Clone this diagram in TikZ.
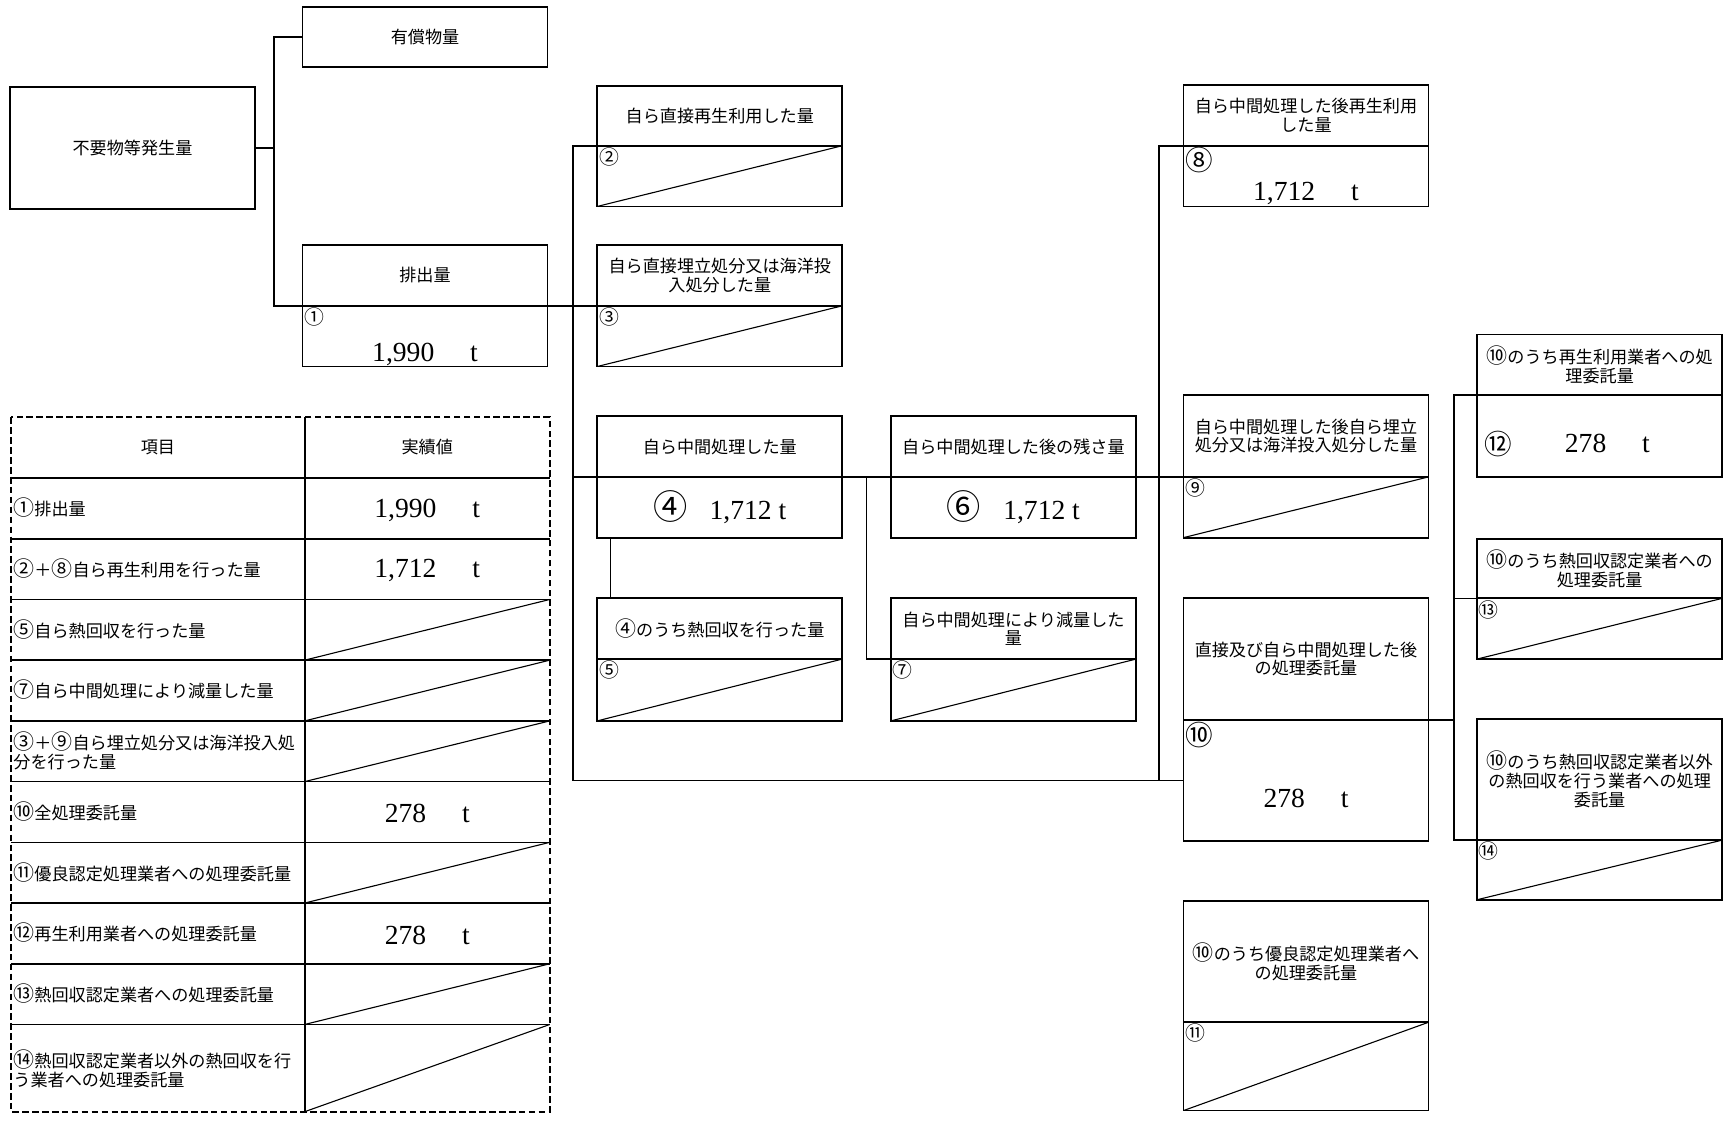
\documentclass[tikz,border=0pt]{standalone}
\usepackage{fontspec}
\newfontfamily\jp{Noto Sans CJK JP}
\newfontfamily\nm{Liberation Serif}
\usetikzlibrary{positioning,calc}
% circled numbers in Noto are small, bring them up to the text height
\def\cn#1{{\fontsize{19}{17}\selectfont#1}}

\tikzset{
  ln/.style={line width=1.5pt},
  hd/.style={draw, line width=1.6pt, outer sep=0pt, inner sep=1pt, minimum width=222pt,
    anchor=north west, align=center, font=\jp\fontsize{15.5}{17}\selectfont},
  vl/.style={draw, line width=1.6pt, outer sep=0pt, inner sep=1pt, minimum width=222pt,
    below=0pt of #1},
  slash/.style={path picture={\draw[line width=1pt] (path picture bounding box.south west) -- (path picture bounding box.north east);}},
  num/.style={anchor=north west, inner sep=1.5pt, font=\jp\fontsize{18}{18}\selectfont},
  bignum/.style={num, font=\jp\fontsize{25}{25}\selectfont},
  qty/.style={font=\nm\fontsize{25}{25}\selectfont},
  cell/.style={anchor=west, inner sep=0pt, align=left, font=\jp\fontsize{15.5}{17}\selectfont},
}

\begin{document}
\begin{tikzpicture}[x=1pt, y=-1pt]
    \useasboundingbox (0,0) rectangle (1568,1015);

    % generated amount
    \node[hd, minimum height=55pt] (yusho) at (274,6) {有償物量};
    \node[hd, minimum height=110pt] (fuyo) at (9,79) {不要物等発生量};
    \node[hd, minimum height=55pt] (haishH) at (274,222) {排出量};
    \node[vl=haishH, minimum height=55pt] (haishV) {};
    \node[num] (c1) at (haishV.north west) {①};
    \node[qty] (q1) at ([yshift=-17pt]haishV.center) {1,990\hspace{1.3em}t};

    % direct
    \node[hd, minimum height=54pt] (b2h) at (541,78) {自ら直接再生利用した量};
    \node[vl=b2h, minimum height=55pt, slash] (b2v) {};
    \node[num] (c2) at (b2v.north west) {②};
    \node[hd, minimum height=55pt] (b3h) at (541,222) {自ら直接埋立処分又は海洋投\\入処分した量};
    \node[vl=b3h, minimum height=55pt, slash] (b3v) {};
    \node[num] (c3) at (b3v.north west) {③};

    % own intermediate treatment
    \node[hd, minimum height=55pt] (b4h) at (541,377) {自ら中間処理した量};
    \node[vl=b4h, minimum height=55pt, qty] (b4v) {{\jp\fontsize{31}{26}\selectfont ④}\hspace{0.8em}1,712 t};
    \node[hd, minimum height=55pt] (b5h) at (541,542) {\cn{④}のうち熱回収を行った量};
    \node[vl=b5h, minimum height=56pt, slash] (b5v) {};
    \node[num] (c5) at (b5v.north west) {⑤};
    \node[hd, minimum height=55pt] (b6h) at (807,377) {自ら中間処理した後の残さ量};
    \node[vl=b6h, minimum height=55pt, qty] (b6v) {{\jp\fontsize{31}{26}\selectfont ⑥}\hspace{0.8em}1,712 t};
    \node[hd, minimum height=55pt] (b7h) at (807,542) {自ら中間処理により減量した\\量};
    \node[vl=b7h, minimum height=56pt, slash] (b7v) {};
    \node[num] (c7) at (b7v.north west) {⑦};

    % after treatment
    \node[hd, minimum height=55pt] (b8h) at (1072,77) {自ら中間処理した後再生利用\\した量};
    \node[vl=b8h, minimum height=55pt] (b8v) {};
    \node[bignum] (c8) at (b8v.north west) {⑧};
    \node[qty] (q8) at ([yshift=-16pt]b8v.center) {1,712\hspace{1.3em}t};
    \node[hd, minimum height=74pt] (b9h) at (1072,358) {自ら中間処理した後自ら埋立\\処分又は海洋投入処分した量};
    \node[vl=b9h, minimum height=55pt, slash] (b9v) {};
    \node[num] (c9) at (b9v.north west) {⑨};
    \node[hd, minimum height=110pt] (b10h) at (1072,542) {直接及び自ら中間処理した後\\の処理委託量};
    \node[vl=b10h, minimum height=110pt] (b10v) {};
    \node[bignum] (c10) at (b10v.north west) {⑩};
    \node[qty] (q10) at ([yshift=-16pt]b10v.center) {278\hspace{1.3em}t};
    \node[hd, minimum height=110pt] (b11h) at (1072,816) {\cn{⑩}のうち優良認定処理業者へ\\の処理委託量};
    \node[vl=b11h, minimum height=80pt, slash] (b11v) {};
    \node[num] (c11) at (b11v.north west) {⑪};

    % consignment
    \node[hd, minimum height=55pt] (b12h) at (1338,303) {\cn{⑩}のうち再生利用業者への処\\理委託量};
    \node[vl=b12h, minimum height=74pt] (b12v) {};
    \node[bignum, anchor=west] (c12) at ([shift={(5pt,-7pt)}]b12v.west) {⑫};
    \node[qty] (q12) at ([shift={(7pt,-7pt)}]b12v.center) {278\hspace{1.3em}t};
    \node[hd, minimum height=54pt] (b13h) at (1338,488) {\cn{⑩}のうち熱回収認定業者への\\処理委託量};
    \node[vl=b13h, minimum height=55pt, slash] (b13v) {};
    \node[num] (c13) at (b13v.north west) {⑬};
    \node[hd, minimum height=110pt] (b14h) at (1338,651) {\cn{⑩}のうち熱回収認定業者以外\\の熱回収を行う業者への処理\\委託量};
    \node[vl=b14h, minimum height=54pt, slash] (b14v) {};
    \node[num] (c14) at (b14v.north west) {⑭};

    % connectors
    \draw[ln] (yusho.west) -- ++(-26,0) coordinate (busL) |- (haishH.south west);
    \draw[ln] (fuyo.east) -- (fuyo.east -| busL);
    \draw[ln] (haishH.south east) -- (b3h.south west);
    \draw[ln] (b2h.south west) -- ++(-22,0) coordinate (busM) |- (b10v.west);
    \draw[ln] (b4h.south west) -- (b4h.south west -| busM);
    \draw[ln] (b4h.south east) -- (b6h.south west);
    \draw[ln] (b6h.south east) -- (b9h.south west);
    \draw[ln] ([xshift=12pt]b4v.south west) -- ([xshift=12pt]b5h.north west);
    \draw[ln] ($(b4h.south east)!0.5!(b6h.south west)$) |- (b7h.south west);
    \draw[ln] (b8h.south west) -- ++(-22,0) |- (b10v.west);
    \draw[ln] (b10h.south east) -- ++(23,0) coordinate (busR);
    \draw[ln] (b12h.south west) -| (busR) |- (b14h.south west);
    \draw[ln] (b13h.south west) -- (b13h.south west -| busR);

    % summary table
    \draw[ln, dash pattern=on 6pt off 3pt] (10,378) rectangle (498,1007);
    \draw[ln] (276,378) -- (276,1007);
    \foreach \y in {433,488,...,928}
        \draw[ln] (10,\y) -- (498,\y);
    \foreach \a/\b in {543/598,598/653,653/708,763/818,873/928,928/1007}
        \draw[line width=1pt] (276,\b) -- (498,\a);
    \node[cell, anchor=center] (tA) at (143,405) {項目};
    \node[cell, anchor=center] (tB) at (387,405) {実績値};
    \foreach \i/\y/\lab in {1/460/{\cn{①}排出量}, 2/515/{\cn{②}＋\cn{⑧}自ら再生利用を行った量},
        3/570/{\cn{⑤}自ら熱回収を行った量}, 4/625/{\cn{⑦}自ら中間処理により減量した量},
        5/680/{\cn{③}＋\cn{⑨}自ら埋立処分又は海洋投入処\\分を行った量}, 6/735/{\cn{⑩}全処理委託量},
        7/790/{\cn{⑪}優良認定処理業者への処理委託量}, 8/845/{\cn{⑫}再生利用業者への処理委託量},
        9/900/{\cn{⑬}熱回収認定業者への処理委託量},
        10/968/{\cn{⑭}熱回収認定業者以外の熱回収を行\\う業者への処理委託量}}
        \node[cell] (t\i) at (12,\y) {\lab};
    \node[qty] (v1) at (387,462) {1,990\hspace{1.3em}t};
    \node[qty] (v2) at (387,517) {1,712\hspace{1.3em}t};
    \node[qty] (v6) at (387,737) {278\hspace{1.3em}t};
    \node[qty] (v8) at (387,847) {278\hspace{1.3em}t};
\end{tikzpicture}
\end{document}
